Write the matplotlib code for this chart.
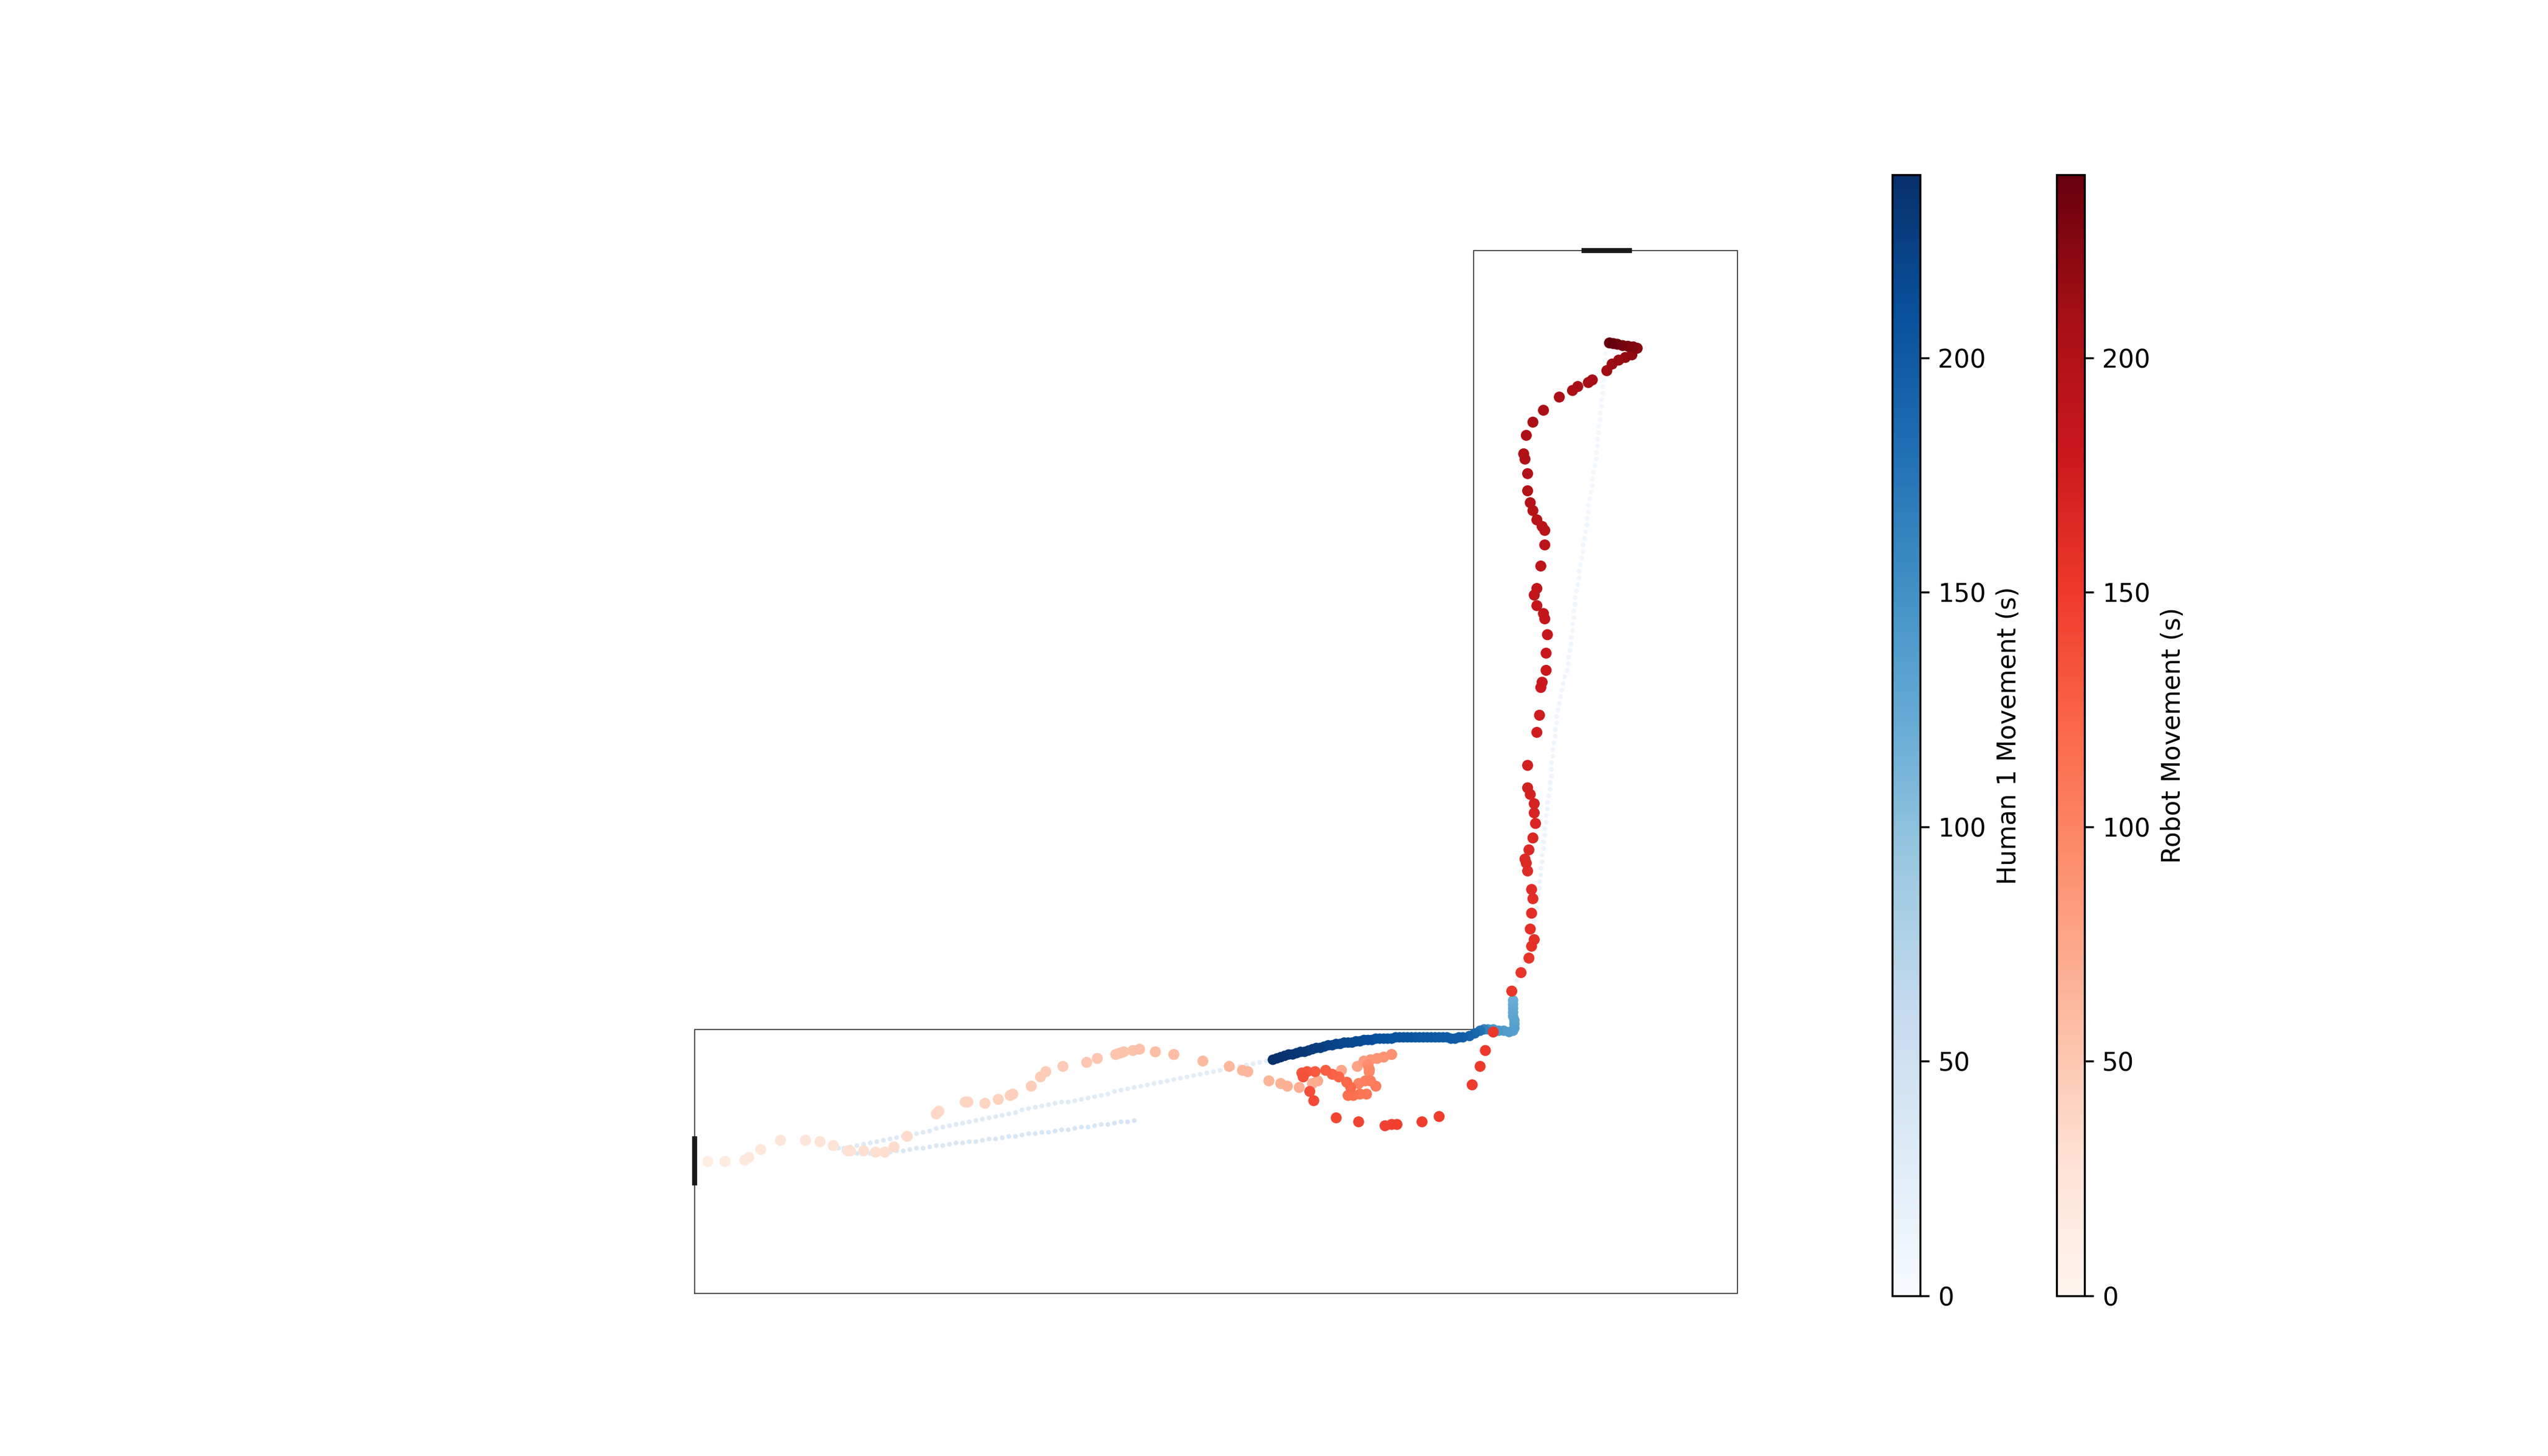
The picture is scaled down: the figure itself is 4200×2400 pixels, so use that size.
import matplotlib
matplotlib.use("Agg")
import matplotlib.pyplot as plt
import numpy as np
from matplotlib.colors import Normalize

# corridor (m): L shaped hall, 2 m wide, 7.9 m per side
HALL_LEN = 7.9
HALL_W = 2.0
hall_x = [0, HALL_LEN, HALL_LEN, HALL_LEN - HALL_W, HALL_LEN - HALL_W, 0, 0]
hall_y = [0, 0, HALL_LEN, HALL_LEN, HALL_W, HALL_W, 0]
door_left_y = [0.82, 1.19]
door_top_x = [6.72, 7.10]

# human 1 track, first pass (small markers)
walk_down_x = [6.90, 6.90, 6.90, 6.89, 6.89, 6.88, 6.88, 6.87, 6.87, 6.86,
               6.86, 6.85, 6.85, 6.84, 6.84, 6.83, 6.83, 6.82, 6.81, 6.80,
               6.80, 6.79, 6.78, 6.77, 6.77, 6.76, 6.76, 6.75, 6.74, 6.73,
               6.73, 6.72, 6.71, 6.70, 6.70, 6.69, 6.68, 6.67, 6.67, 6.66,
               6.66, 6.65, 6.65, 6.64, 6.64, 6.63, 6.62, 6.62, 6.61, 6.59,
               6.58, 6.57, 6.56, 6.55, 6.54, 6.53, 6.53, 6.52, 6.52, 6.51,
               6.50, 6.50, 6.49, 6.49, 6.49, 6.48, 6.48, 6.47, 6.46, 6.46,
               6.45, 6.45, 6.44, 6.44, 6.43, 6.43, 6.42, 6.42, 6.41, 6.41,
               6.40, 6.40, 6.39, 6.38, 6.38, 6.37, 6.36, 6.36, 6.35, 6.33,
               6.31, 6.30, 6.28, 6.26, 6.24, 6.23, 6.21]
walk_down_y = [7.12, 7.07, 7.02, 6.97, 6.92, 6.87, 6.82, 6.77, 6.72, 6.67,
               6.62, 6.57, 6.52, 6.47, 6.42, 6.37, 6.32, 6.27, 6.22, 6.17,
               6.12, 6.07, 6.02, 5.97, 5.92, 5.87, 5.82, 5.77, 5.72, 5.67,
               5.62, 5.57, 5.52, 5.47, 5.42, 5.37, 5.32, 5.27, 5.22, 5.17,
               5.12, 5.07, 5.02, 4.97, 4.92, 4.87, 4.82, 4.77, 4.72, 4.67,
               4.62, 4.57, 4.52, 4.47, 4.42, 4.37, 4.32, 4.27, 4.22, 4.17,
               4.12, 4.07, 4.02, 3.97, 3.92, 3.87, 3.82, 3.77, 3.72, 3.67,
               3.62, 3.57, 3.52, 3.47, 3.42, 3.37, 3.32, 3.27, 3.22, 3.17,
               3.12, 3.07, 3.02, 2.97, 2.92, 2.87, 2.82, 2.77, 2.72, 2.67,
               2.62, 2.57, 2.52, 2.47, 2.42, 2.37, 2.32]
walk_down_t = [6.0, 6.1, 6.2, 6.3, 6.4, 6.5, 6.6, 6.7, 6.8, 6.9,
               7.0, 7.1, 7.2, 7.3, 7.4, 7.5, 7.6, 7.7, 7.8, 7.9,
               8.0, 8.1, 8.2, 8.3, 8.4, 8.5, 8.6, 8.7, 8.8, 8.9,
               9.0, 9.1, 9.2, 9.3, 9.4, 9.5, 9.6, 9.7, 9.8, 9.9,
               10.0, 10.1, 10.2, 10.3, 10.4, 10.5, 10.6, 10.7, 10.8, 10.9,
               11.0, 11.1, 11.2, 11.3, 11.4, 11.5, 11.6, 11.7, 11.8, 11.9,
               12.0, 12.1, 12.2, 12.3, 12.4, 12.5, 12.6, 12.7, 12.8, 12.9,
               13.0, 13.1, 13.2, 13.3, 13.4, 13.5, 13.6, 13.7, 13.8, 13.9,
               14.0, 14.1, 14.2, 14.3, 14.4, 14.5, 14.6, 14.7, 14.8, 14.9,
               15.0, 15.1, 15.2, 15.3, 15.4, 15.5, 15.6]

corridor_out_x = [4.38, 4.33, 4.28, 4.23, 4.18, 4.13, 4.08, 4.03, 3.98, 3.93,
                  3.88, 3.83, 3.78, 3.73, 3.68, 3.63, 3.58, 3.53, 3.48, 3.43,
                  3.38, 3.33, 3.28, 3.23, 3.18, 3.13, 3.08, 3.03, 2.98, 2.93,
                  2.88, 2.83, 2.78, 2.73, 2.68, 2.63, 2.58, 2.53, 2.48, 2.43,
                  2.38, 2.33, 2.28, 2.23, 2.18, 2.13, 2.08, 2.03, 1.98, 1.93,
                  1.88, 1.83, 1.78, 1.73, 1.68, 1.63, 1.58, 1.53, 1.48, 1.43,
                  1.38, 1.33, 1.28, 1.23, 1.18, 1.13, 1.09]
corridor_out_y = [1.77, 1.76, 1.75, 1.74, 1.73, 1.72, 1.71, 1.70, 1.69, 1.68,
                  1.67, 1.66, 1.65, 1.64, 1.63, 1.62, 1.61, 1.60, 1.59, 1.58,
                  1.57, 1.56, 1.55, 1.54, 1.53, 1.51, 1.50, 1.49, 1.48, 1.47,
                  1.46, 1.45, 1.45, 1.44, 1.43, 1.42, 1.41, 1.40, 1.39, 1.37,
                  1.36, 1.35, 1.34, 1.33, 1.32, 1.31, 1.30, 1.29, 1.28, 1.27,
                  1.26, 1.25, 1.23, 1.22, 1.21, 1.20, 1.19, 1.18, 1.17, 1.16,
                  1.15, 1.14, 1.13, 1.12, 1.11, 1.10, 1.10]
corridor_out_t = [24.0, 24.2, 24.3, 24.5, 24.6, 24.8, 24.9, 25.1, 25.2, 25.4,
                  25.5, 25.7, 25.8, 26.0, 26.1, 26.3, 26.4, 26.6, 26.7, 26.9,
                  27.0, 27.2, 27.3, 27.5, 27.6, 27.8, 27.9, 28.1, 28.2, 28.4,
                  28.5, 28.7, 28.8, 29.0, 29.1, 29.3, 29.4, 29.6, 29.7, 29.9,
                  30.0, 30.2, 30.3, 30.5, 30.6, 30.8, 30.9, 31.1, 31.2, 31.4,
                  31.5, 31.7, 31.8, 32.0, 32.1, 32.3, 32.4, 32.6, 32.7, 32.9,
                  33.0, 33.2, 33.3, 33.5, 33.6, 33.8, 33.9]

corridor_back_x = [1.13, 1.18, 1.23, 1.28, 1.33, 1.38, 1.43, 1.48, 1.53, 1.58,
                   1.63, 1.68, 1.73, 1.78, 1.83, 1.88, 1.93, 1.98, 2.03, 2.08,
                   2.13, 2.18, 2.23, 2.28, 2.33, 2.38, 2.43, 2.48, 2.53, 2.58,
                   2.63, 2.68, 2.73, 2.78, 2.83, 2.88, 2.93, 2.98, 3.03, 3.08,
                   3.13, 3.18, 3.23, 3.28, 3.33]
corridor_back_y = [1.08, 1.07, 1.06, 1.06, 1.06, 1.07, 1.07, 1.07, 1.08, 1.08,
                   1.09, 1.10, 1.10, 1.11, 1.12, 1.12, 1.13, 1.14, 1.14, 1.15,
                   1.15, 1.16, 1.17, 1.17, 1.18, 1.19, 1.19, 1.20, 1.21, 1.21,
                   1.22, 1.22, 1.23, 1.24, 1.24, 1.25, 1.26, 1.26, 1.27, 1.28,
                   1.28, 1.29, 1.30, 1.30, 1.31]
corridor_back_t = [34.0, 34.2, 34.3, 34.5, 34.6, 34.8, 34.9, 35.1, 35.2, 35.4,
                   35.5, 35.7, 35.8, 36.0, 36.1, 36.3, 36.4, 36.6, 36.7, 36.9,
                   37.0, 37.2, 37.3, 37.5, 37.6, 37.8, 37.9, 38.1, 38.2, 38.4,
                   38.5, 38.7, 38.8, 39.0, 39.1, 39.3, 39.4, 39.6, 39.7, 39.9,
                   40.0, 40.2, 40.3, 40.5, 40.6]

# human 1 track, second pass (re-acquired near the corner)
return_x = [6.20, 6.20, 6.20, 6.20, 6.20, 6.21, 6.21, 6.21, 6.20, 6.17,
            6.13, 6.09, 6.05, 6.01, 5.98, 5.95, 5.91, 5.87, 5.82,
            5.79, 5.76, 5.73, 5.70, 5.67, 5.64, 5.61, 5.58, 5.55, 5.52,
            5.49, 5.46, 5.43, 5.40, 5.37, 5.34, 5.31, 5.28, 5.25, 5.22,
            5.19, 5.16, 5.13, 5.10, 5.07, 5.04, 5.01, 4.98, 4.95, 4.92,
            4.89, 4.86, 4.83, 4.80, 4.77, 4.74, 4.71, 4.68, 4.65, 4.62,
            4.59, 4.56, 4.53, 4.50, 4.47, 4.44, 4.41, 4.38]
return_y = [2.22, 2.19, 2.16, 2.13, 2.10, 2.07, 2.04, 2.01, 1.99, 1.98,
            1.99, 1.99, 2.00, 2.00, 2.00, 1.99, 1.97, 1.95, 1.94,
            1.94, 1.93, 1.93, 1.94, 1.94, 1.94, 1.94, 1.94, 1.94, 1.94,
            1.94, 1.94, 1.94, 1.94, 1.94, 1.94, 1.94, 1.93, 1.93, 1.93,
            1.93, 1.93, 1.92, 1.92, 1.92, 1.91, 1.91, 1.90, 1.90, 1.90,
            1.89, 1.89, 1.88, 1.88, 1.87, 1.86, 1.86, 1.85, 1.84, 1.83,
            1.83, 1.82, 1.81, 1.81, 1.80, 1.79, 1.78, 1.77]
return_t = [120, 122, 124, 126, 128, 130, 132, 134, 136, 138,
            140, 142, 144, 150, 165, 180, 188, 192, 196,
            198, 198.5, 199, 199.5, 200, 200.5, 201, 201.5, 202, 202.5,
            203, 203.5, 204, 204.5, 205, 205.5, 206, 206.5, 207, 207.5,
            208, 209, 210, 211, 212, 213, 214, 215, 216, 218,
            219, 220, 221, 222, 224, 225, 226, 227, 228, 230,
            231, 232, 233, 234, 235, 236, 237, 239]

# robot track
robot_x = [0.10, 0.23, 0.38, 0.41, 0.50, 0.65, 0.84, 0.95, 1.05, 1.16,
           1.18, 1.28, 1.37, 1.44, 1.51, 1.61, 1.83, 1.85, 2.05, 2.07,
           2.20, 2.30, 2.39, 2.41, 2.55, 2.62, 2.66, 2.79, 2.97, 3.05,
           3.19, 3.22, 3.25, 3.32, 3.37, 3.49, 3.63, 3.85, 4.05, 4.15,
           4.19, 4.35, 4.44, 4.49, 4.58, 4.68, 4.72, 4.90, 5.02, 5.07,
           5.12, 5.17, 5.22, 5.28, 5.10, 5.11, 5.11, 5.03, 5.08, 5.12,
           5.16, 5.09, 5.04, 4.99, 4.95, 4.97, 4.94, 4.88, 4.83, 4.78,
           4.70, 4.64, 4.60, 4.61, 4.66, 4.69, 4.86, 5.03, 5.23, 5.28,
           5.32, 5.51, 5.64, 5.89, 5.95, 5.99, 6.05, 6.19, 6.26, 6.32,
           6.34, 6.36, 6.33, 6.34, 6.35, 6.34, 6.31, 6.30, 6.29, 6.32,
           6.35, 6.37, 6.36, 6.36, 6.33, 6.31, 6.31, 6.38, 6.40, 6.41,
           6.42, 6.45, 6.45, 6.46, 6.44, 6.43, 6.38, 6.36, 6.38, 6.41,
           6.44, 6.44, 6.42, 6.38, 6.35, 6.33, 6.31, 6.31, 6.29, 6.28,
           6.30, 6.35, 6.43, 6.55, 6.65, 6.69, 6.77, 6.80, 6.91, 6.95,
           7.00, 7.05, 7.10, 7.14, 7.11, 7.07, 7.03, 6.99, 6.96, 6.93]
robot_y = [1.00, 1.00, 1.01, 1.03, 1.09, 1.16, 1.16, 1.15, 1.12, 1.08,
           1.08, 1.08, 1.07, 1.07, 1.11, 1.19, 1.36, 1.38, 1.45, 1.45,
           1.44, 1.47, 1.50, 1.51, 1.57, 1.64, 1.68, 1.72, 1.75, 1.78,
           1.81, 1.82, 1.83, 1.84, 1.85, 1.83, 1.81, 1.76, 1.72, 1.69,
           1.68, 1.61, 1.59, 1.57, 1.56, 1.59, 1.61, 1.69, 1.72, 1.76,
           1.77, 1.78, 1.79, 1.81, 1.73, 1.70, 1.68, 1.59, 1.61, 1.61,
           1.57, 1.51, 1.51, 1.50, 1.50, 1.56, 1.60, 1.64, 1.66, 1.69,
           1.68, 1.68, 1.67, 1.64, 1.53, 1.46, 1.33, 1.30, 1.27, 1.28,
           1.28, 1.30, 1.34, 1.58, 1.72, 1.84, 1.98, 2.29, 2.43, 2.54,
           2.63, 2.68, 2.76, 2.88, 2.99, 3.06, 3.20, 3.26, 3.29, 3.36,
           3.45, 3.56, 3.64, 3.71, 3.78, 3.83, 4.00, 4.25, 4.38, 4.59,
           4.63, 4.72, 4.85, 4.99, 5.11, 5.15, 5.21, 5.29, 5.34, 5.51,
           5.67, 5.78, 5.81, 5.86, 5.93, 5.99, 6.08, 6.21, 6.32, 6.36,
           6.50, 6.60, 6.69, 6.79, 6.84, 6.87, 6.90, 6.92, 6.99, 7.04,
           7.07, 7.09, 7.11, 7.16, 7.17, 7.175, 7.18, 7.19, 7.195, 7.20]
robot_t = [14, 16, 18, 19, 21, 23, 25, 26, 27, 28,
           29, 30, 31, 32, 33, 34, 36, 37, 39, 40,
           41, 42, 43, 44, 45, 46, 47, 48, 50, 51,
           52, 53, 54, 55, 56, 57, 58, 60, 62, 63,
           64, 66, 67, 68, 69, 70, 71, 74, 78, 82,
           85, 87, 89, 91, 94, 96, 98, 101, 103, 105,
           107, 110, 112, 114, 116, 119, 121, 123, 125, 127,
           130, 132, 134, 136, 138, 140, 142, 143, 145, 146,
           147, 148, 149, 150, 151, 152, 153, 154, 155, 156,
           157, 158, 159, 160, 161, 162, 163, 164, 165, 166,
           167, 168, 169, 170, 171, 172, 173, 175, 176, 178,
           179, 180, 181, 182, 184, 185, 186, 187, 188, 190,
           192, 193, 194, 195, 196, 197, 198, 199, 200, 201,
           202, 203, 204, 205, 206, 207, 208, 209, 211, 213,
           215, 217, 219, 222, 225, 228, 231, 234, 237, 239]

T_MAX = 239

fig = plt.figure(figsize=(14, 8), dpi=300)

# map axis so 1 m = 217.6 px on a 4200x2400 canvas, hall corner at px (1145, 2132)
PX_PER_M = 217.6
PAD = 0.3
lo, hi = -PAD, HALL_LEN + PAD
span_px = (hi - lo) * PX_PER_M
ax = fig.add_axes([(1145 - PAD * PX_PER_M) / 4200,
                   (2400 - 2132 - PAD * PX_PER_M) / 2400,
                   span_px / 4200, span_px / 2400])
ax.set_xlim(lo, hi)
ax.set_ylim(lo, hi)
ax.set_axis_off()

ax.plot(hall_x, hall_y, color="0.2", lw=0.4, zorder=1)
ax.plot([0, 0], door_left_y, color="#1a1a1a", lw=2, solid_capstyle="butt", zorder=2)
ax.plot(door_top_x, [HALL_LEN, HALL_LEN], color="#1a1a1a", lw=2, solid_capstyle="butt", zorder=2)

norm = Normalize(vmin=0, vmax=T_MAX)

first_x = walk_down_x + corridor_out_x + corridor_back_x
first_y = walk_down_y + corridor_out_y + corridor_back_y
first_t = walk_down_t + corridor_out_t + corridor_back_t
sc_h = ax.scatter(first_x, first_y, c=first_t, cmap="Blues", norm=norm,
                  s=3.5, linewidths=0, zorder=3)
ax.scatter(return_x, return_y, c=return_t, cmap="Blues", norm=norm,
           s=17, linewidths=0, zorder=4)
sc_r = ax.scatter(robot_x, robot_y, c=robot_t, cmap="Reds", norm=norm,
                  s=19, linewidths=0, zorder=5)

cax_h = fig.add_axes([0.7426, 0.11, 0.011, 0.77])
cb_h = fig.colorbar(sc_h, cax=cax_h)
cb_h.set_label("Human 1 Movement (s)")

cax_r = fig.add_axes([0.8071, 0.11, 0.011, 0.77])
cb_r = fig.colorbar(sc_r, cax=cax_r)
cb_r.set_label("Robot Movement (s)")

fig.savefig("out.png", dpi=300)
